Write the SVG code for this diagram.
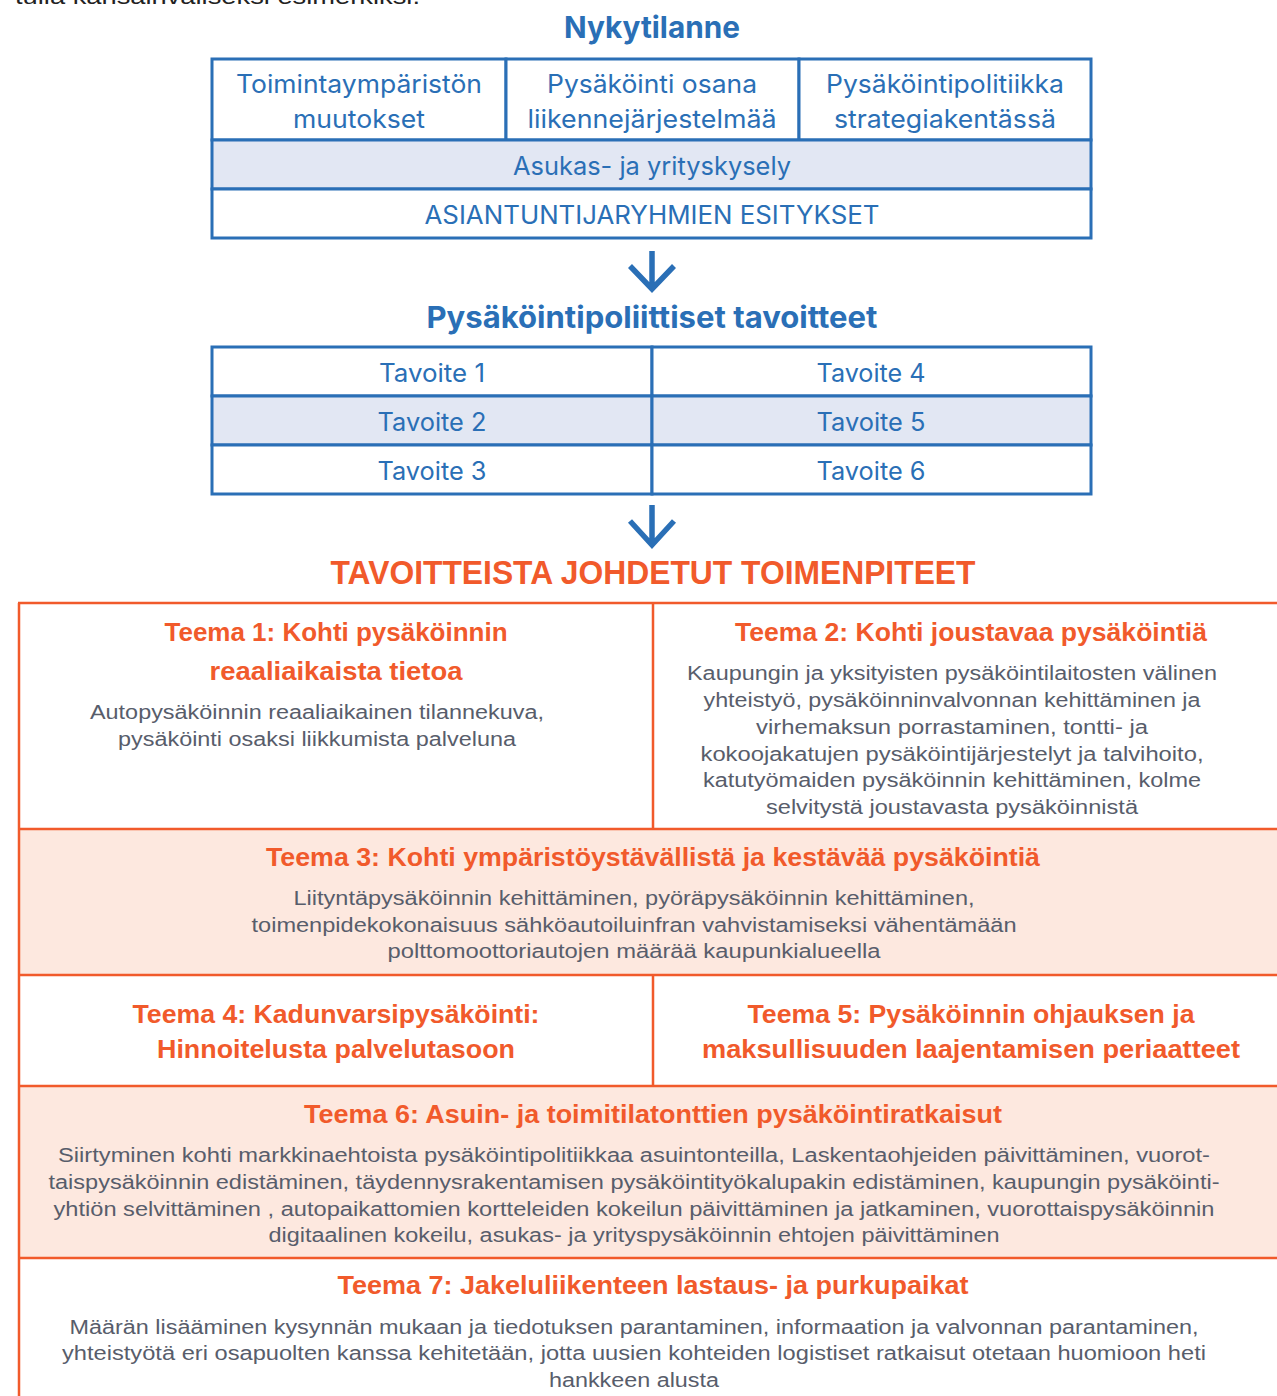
<svg xmlns="http://www.w3.org/2000/svg" width="1277" height="1396" viewBox="0 0 1277 1396">
<style>
.bt{font-family:Inter,"Liberation Sans",sans-serif;font-size:25px;fill:#2a6fb6;text-anchor:middle}
.bh{font-family:Inter,"Liberation Sans",sans-serif;font-size:30px;font-weight:bold;fill:#2a6fb6;text-anchor:middle}
.bbox{fill:#ffffff;stroke:#2a6fb6;stroke-width:3}
.bfill{fill:#e2e7f3;stroke:#2a6fb6;stroke-width:3}
.oline{stroke:#f15a2b;stroke-width:2.5;fill:none}
.ofill{fill:#fde8df}
.oh{font-family:"Liberation Sans",sans-serif;font-size:26px;font-weight:bold;fill:#f15a2b;text-anchor:middle}
.ob{font-family:"Liberation Sans",sans-serif;font-size:20px;fill:#585d6b;text-anchor:middle}
.arr{stroke:#2a6fb6;stroke-width:5.5;fill:none}
</style>
<text x="15" y="4" font-family="Liberation Sans,sans-serif" font-size="22" fill="#222" textLength="405" lengthAdjust="spacingAndGlyphs">tulla kansainväliseksi esimerkiksi.</text>

<g id="nykytilanne-title"><text class="bh" x="652" y="38" textLength="176" lengthAdjust="spacingAndGlyphs">Nykytilanne</text></g>
<g id="toimintaymparisto">
<rect class="bbox" x="212" y="59" width="294" height="81"/>
<text class="bt" x="359" y="93" textLength="246" lengthAdjust="spacingAndGlyphs">Toimintaympäristön</text>
<text class="bt" x="359" y="128" textLength="132" lengthAdjust="spacingAndGlyphs">muutokset</text>
</g>
<g id="liikennejarjestelma">
<rect class="bbox" x="506" y="59" width="293" height="81"/>
<text class="bt" x="652" y="93" textLength="210" lengthAdjust="spacingAndGlyphs">Pysäköinti osana</text>
<text class="bt" x="652" y="128" textLength="249" lengthAdjust="spacingAndGlyphs">liikennejärjestelmää</text>
</g>
<g id="strategiakentta">
<rect class="bbox" x="799" y="59" width="292" height="81"/>
<text class="bt" x="945" y="93" textLength="238" lengthAdjust="spacingAndGlyphs">Pysäköintipolitiikka</text>
<text class="bt" x="945" y="128" textLength="222" lengthAdjust="spacingAndGlyphs">strategiakentässä</text>
</g>
<g id="kysely">
<rect class="bfill" x="212" y="140" width="879" height="49"/>
<text class="bt" x="652" y="175" textLength="278" lengthAdjust="spacingAndGlyphs">Asukas- ja yrityskysely</text>
</g>
<g id="asiantuntijat">
<rect class="bbox" x="212" y="189" width="879" height="49"/>
<text class="bt" x="652" y="224" textLength="455" lengthAdjust="spacingAndGlyphs">ASIANTUNTIJARYHMIEN ESITYKSET</text>
</g>

<g id="tavoitteet-title"><text class="bh" x="652" y="328" textLength="451" lengthAdjust="spacingAndGlyphs">Pysäköintipoliittiset tavoitteet</text></g>
<g id="tavoite1"><rect class="bbox" x="212" y="347" width="440" height="49"/><text class="bt" x="432" y="382" textLength="106" lengthAdjust="spacingAndGlyphs">Tavoite 1</text></g>
<g id="tavoite4"><rect class="bbox" x="652" y="347" width="439" height="49"/><text class="bt" x="871" y="382" textLength="109" lengthAdjust="spacingAndGlyphs">Tavoite 4</text></g>
<g id="tavoite2"><rect class="bfill" x="212" y="396" width="440" height="49"/><text class="bt" x="432" y="431" textLength="109" lengthAdjust="spacingAndGlyphs">Tavoite 2</text></g>
<g id="tavoite5"><rect class="bfill" x="652" y="396" width="439" height="49"/><text class="bt" x="871" y="431" textLength="109" lengthAdjust="spacingAndGlyphs">Tavoite 5</text></g>
<g id="tavoite3"><rect class="bbox" x="212" y="445" width="440" height="49"/><text class="bt" x="432" y="480" textLength="109" lengthAdjust="spacingAndGlyphs">Tavoite 3</text></g>
<g id="tavoite6"><rect class="bbox" x="652" y="445" width="439" height="49"/><text class="bt" x="871" y="480" textLength="109" lengthAdjust="spacingAndGlyphs">Tavoite 6</text></g>

<g id="connectors">
<path class="arr" d="M652 251 V289 M630 266 L652 289 L674 266"/>
<path class="arr" d="M652 505 V545 M630 521 L652 545 L674 521"/>
</g>

<g id="toimenpiteet-title"><text x="653" y="584" font-family="Liberation Sans,sans-serif" font-size="33" font-weight="bold" fill="#f15a2b" text-anchor="middle" textLength="645" lengthAdjust="spacingAndGlyphs">TAVOITTEISTA JOHDETUT TOIMENPITEET</text></g>

<g id="fills">
<rect class="ofill" x="19" y="829" width="1260" height="146"/>
<rect class="ofill" x="19" y="1086" width="1260" height="172"/>
</g>

<g id="teema1">
<text class="oh" x="336" y="641" textLength="343" lengthAdjust="spacingAndGlyphs">Teema 1: Kohti pysäköinnin</text>
<text class="oh" x="336" y="680" textLength="253" lengthAdjust="spacingAndGlyphs">reaaliaikaista tietoa</text>
<text class="ob" x="317" y="719" textLength="454" lengthAdjust="spacingAndGlyphs">Autopysäköinnin reaaliaikainen tilannekuva,</text>
<text class="ob" x="317" y="746" textLength="398" lengthAdjust="spacingAndGlyphs">pysäköinti osaksi liikkumista palveluna</text>
</g>
<g id="teema2">
<text class="oh" x="971" y="641" textLength="472" lengthAdjust="spacingAndGlyphs">Teema 2: Kohti joustavaa pysäköintiä</text>
<text class="ob" x="952" y="680" textLength="530" lengthAdjust="spacingAndGlyphs">Kaupungin ja yksityisten pysäköintilaitosten välinen</text>
<text class="ob" x="952" y="707" textLength="497" lengthAdjust="spacingAndGlyphs">yhteistyö, pysäköinninvalvonnan kehittäminen ja</text>
<text class="ob" x="952" y="734" textLength="392" lengthAdjust="spacingAndGlyphs">virhemaksun porrastaminen, tontti- ja</text>
<text class="ob" x="952" y="761" textLength="503" lengthAdjust="spacingAndGlyphs">kokoojakatujen pysäköintijärjestelyt ja talvihoito,</text>
<text class="ob" x="952" y="787" textLength="498" lengthAdjust="spacingAndGlyphs">katutyömaiden pysäköinnin kehittäminen, kolme</text>
<text class="ob" x="952" y="814" textLength="372" lengthAdjust="spacingAndGlyphs">selvitystä joustavasta pysäköinnistä</text>
</g>
<g id="teema3">
<text class="oh" x="653" y="866" textLength="774" lengthAdjust="spacingAndGlyphs">Teema 3: Kohti ympäristöystävällistä ja kestävää pysäköintiä</text>
<text class="ob" x="634" y="905" textLength="681" lengthAdjust="spacingAndGlyphs">Liityntäpysäköinnin kehittäminen, pyöräpysäköinnin kehittäminen,</text>
<text class="ob" x="634" y="932" textLength="765" lengthAdjust="spacingAndGlyphs">toimenpidekokonaisuus sähköautoiluinfran vahvistamiseksi vähentämään</text>
<text class="ob" x="634" y="958" textLength="493" lengthAdjust="spacingAndGlyphs">polttomoottoriautojen määrää kaupunkialueella</text>
</g>
<g id="teema4">
<text class="oh" x="336" y="1023" textLength="407" lengthAdjust="spacingAndGlyphs">Teema 4: Kadunvarsipysäköinti:</text>
<text class="oh" x="336" y="1058" textLength="358" lengthAdjust="spacingAndGlyphs">Hinnoitelusta palvelutasoon</text>
</g>
<g id="teema5">
<text class="oh" x="971" y="1023" textLength="447" lengthAdjust="spacingAndGlyphs">Teema 5: Pysäköinnin ohjauksen ja</text>
<text class="oh" x="971" y="1058" textLength="538" lengthAdjust="spacingAndGlyphs">maksullisuuden laajentamisen periaatteet</text>
</g>
<g id="teema6">
<text class="oh" x="653" y="1123" textLength="698" lengthAdjust="spacingAndGlyphs">Teema 6: Asuin- ja toimitilatonttien pysäköintiratkaisut</text>
<text class="ob" x="634" y="1162" textLength="1152" lengthAdjust="spacingAndGlyphs">Siirtyminen kohti markkinaehtoista pysäköintipolitiikkaa asuintonteilla, Laskentaohjeiden päivittäminen, vuorot-</text>
<text class="ob" x="634" y="1189" textLength="1171" lengthAdjust="spacingAndGlyphs">taispysäköinnin edistäminen, täydennysrakentamisen pysäköintityökalupakin edistäminen, kaupungin pysäköinti-</text>
<text class="ob" x="634" y="1216" textLength="1161" lengthAdjust="spacingAndGlyphs">yhtiön selvittäminen , autopaikattomien kortteleiden kokeilun päivittäminen ja jatkaminen, vuorottaispysäköinnin</text>
<text class="ob" x="634" y="1242" textLength="731" lengthAdjust="spacingAndGlyphs">digitaalinen kokeilu, asukas- ja yrityspysäköinnin ehtojen päivittäminen</text>
</g>
<g id="teema7">
<text class="oh" x="653" y="1294" textLength="631" lengthAdjust="spacingAndGlyphs">Teema 7: Jakeluliikenteen lastaus- ja purkupaikat</text>
<text class="ob" x="634" y="1334" textLength="1129" lengthAdjust="spacingAndGlyphs">Määrän lisääminen kysynnän mukaan ja tiedotuksen parantaminen, informaation ja valvonnan parantaminen,</text>
<text class="ob" x="634" y="1360" textLength="1144" lengthAdjust="spacingAndGlyphs">yhteistyötä eri osapuolten kanssa kehitetään, jotta uusien kohteiden logistiset ratkaisut otetaan huomioon heti</text>
<text class="ob" x="634" y="1387" textLength="170" lengthAdjust="spacingAndGlyphs">hankkeen alusta</text>
</g>

<g id="grid">
<path class="oline" d="M18 603 H1280 M18 829 H1280 M18 975 H1280 M18 1086 H1280 M18 1258 H1280 M19 603 V1400 M653 603 V829 M653 975 V1086"/>
</g>
</svg>
